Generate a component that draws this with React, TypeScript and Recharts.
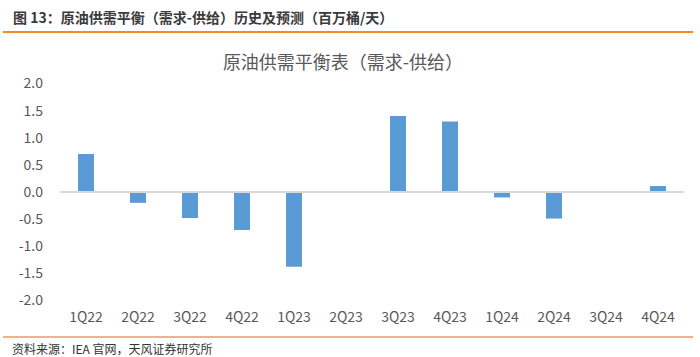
import { BarChart, Bar, XAxis, YAxis, ReferenceLine } from 'recharts'

// quarters and balance (demand - supply), mb/d
const quarters = ['1Q22', '2Q22', '3Q22', '4Q22', '1Q23', '2Q23', '3Q23', '4Q23', '1Q24', '2Q24', '3Q24', '4Q24']
const balance = [0.7, -0.2, -0.48, -0.7, -1.38, 0, 1.4, 1.3, -0.1, -0.49, 0, 0.11]
const yTicks = [2, 1.5, 1, 0.5, 0, -0.5, -1, -1.5, -2]

const FONT = '"Noto Sans CJK SC", "Noto Sans", sans-serif'

export default function App() {
  const data = quarters.map((q, i) => ({ name: q, value: balance[i] }))

  return (
    <div style={{ position: 'absolute', left: 0, top: 0, width: 700, height: 357, background: '#fff', fontFamily: FONT, overflow: 'hidden' }}>
      <div style={{ position: 'absolute', left: 13, top: 7, fontSize: 14, fontWeight: 700, color: '#3a3a3a', lineHeight: '20px', whiteSpace: 'nowrap' }}>
        图 13：原油供需平衡（需求-供给）历史及预测（百万桶/天）
      </div>
      <div style={{ position: 'absolute', left: 3, top: 31, width: 690, height: 2, background: '#F5892A' }} />

      <div style={{ position: 'absolute', left: 0, top: 48, width: 686, textAlign: 'center', fontSize: 18, color: '#595959', lineHeight: '26px' }}>
        原油供需平衡表（需求-供给）
      </div>

      <div style={{ position: 'absolute', left: 0, top: 0 }}>
        <BarChart
          width={700}
          height={357}
          data={data}
          margin={{ top: 83.5, right: 16, bottom: 26.5, left: 10 }}
        >
          <YAxis
            width={50}
            domain={[-2, 2]}
            ticks={yTicks}
            interval={0}
            axisLine={false}
            tickLine={false}
            tickMargin={11}
            tickFormatter={(v: number) => v.toFixed(1)}
            tick={{ fill: '#595959', fontSize: 14, fontFamily: FONT }}
          />
          <XAxis
            dataKey="name"
            height={30}
            axisLine={false}
            tickLine={false}
            interval={0}
            tickMargin={6}
            tick={{ fill: '#595959', fontSize: 14, fontFamily: FONT }}
          />
          <ReferenceLine y={0} stroke="#D9D9D9" strokeWidth={2} />
          <Bar dataKey="value" fill="#5B9BD5" barSize={16} isAnimationActive={false} />
        </BarChart>
      </div>

      <div style={{ position: 'absolute', left: 3, top: 336, width: 690, height: 1.5, background: '#F4B183' }} />
      <div style={{ position: 'absolute', left: 12, top: 342, fontSize: 12, color: '#333', lineHeight: '14px', whiteSpace: 'nowrap' }}>
        资料来源：IEA 官网，天风证券研究所
      </div>
    </div>
  )
}
